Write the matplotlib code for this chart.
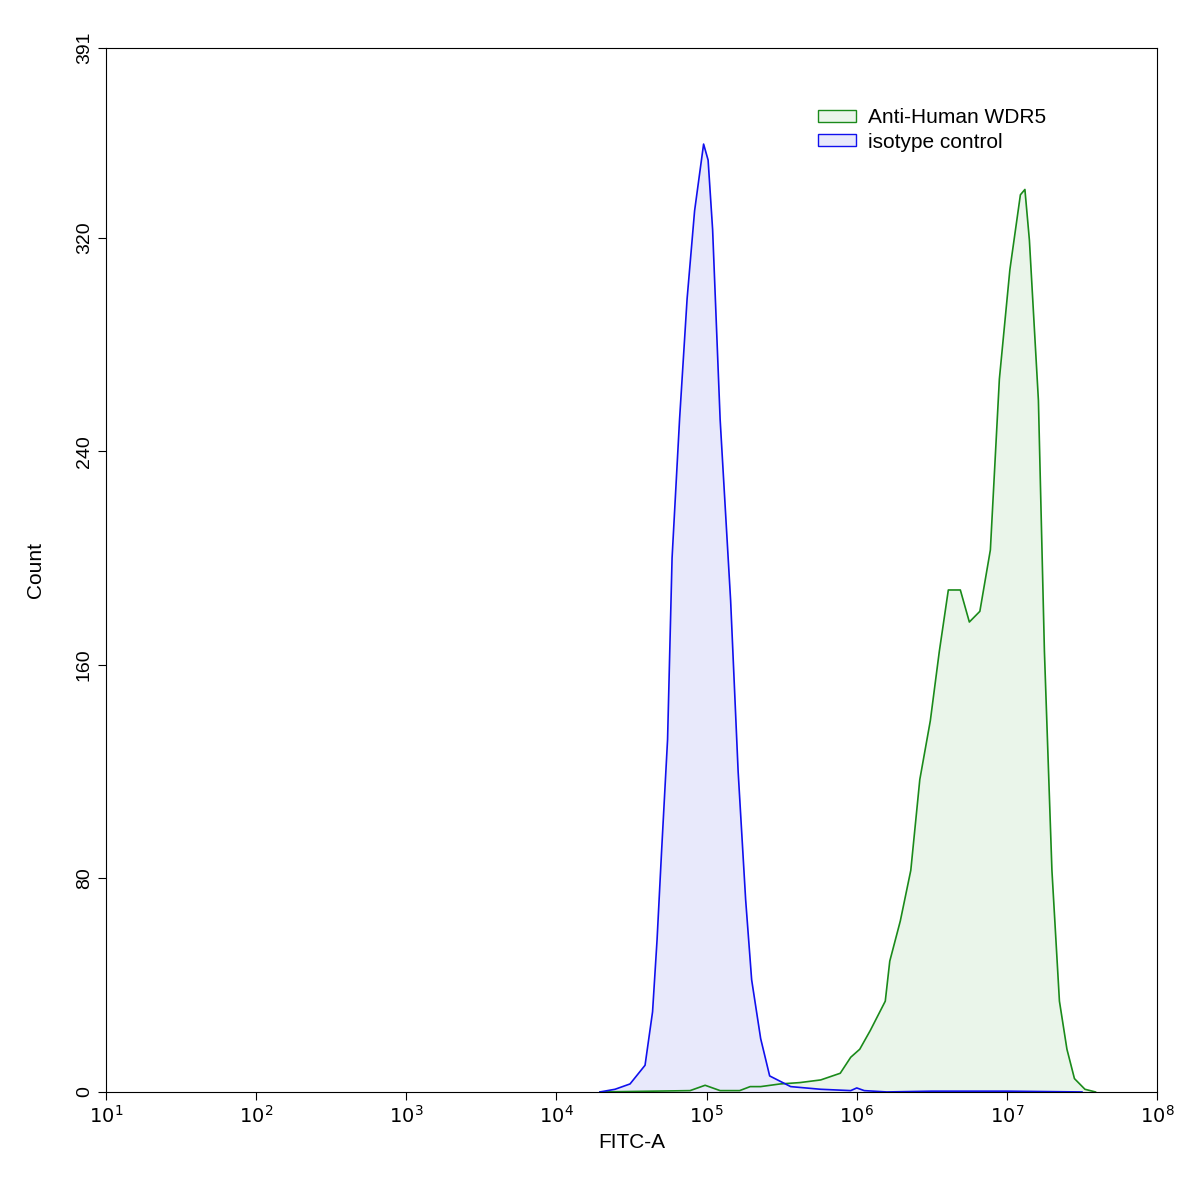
import matplotlib
matplotlib.use("Agg")
import matplotlib.pyplot as plt
import numpy as np
from matplotlib.patches import Patch

plt.rcParams['font.family'] = ['Liberation Sans', 'DejaVu Sans']

blue_logx = [4.29,4.39,4.49,4.59,4.64,4.67,4.70,4.74,4.77,4.82,4.87,4.92,4.98,5.01,5.04,5.09,5.16,5.21,5.26,5.30,5.36,5.42,5.56,5.76,5.96,6.0,6.05,6.2,6.5,7.0,7.5]
blue_y    = [0,1,3,10,30,57,90,132,200,252,297,330,355,349,323,252,184,120,72,42,20,6,2,1,0.5,1.5,0.5,0,0.3,0.3,0]
green_logx = [4.29,4.89,4.99,5.09,5.22,5.29,5.36,5.49,5.62,5.76,5.89,5.96,6.02,6.09,6.19,6.22,6.29,6.36,6.42,6.49,6.55,6.61,6.69,6.75,6.82,6.89,6.95,7.02,7.09,7.12,7.15,7.21,7.25,7.30,7.35,7.40,7.45,7.52,7.59]
green_y    = [0,0.5,2.5,0.5,0.5,2,2,3,3.5,4.5,7,13,16,23,34,49,64,83,117,139,165,188,188,176,180,203,267,308,336,338,319,259,165,83,34,16,5,1,0]

fig = plt.figure(figsize=(11.97, 11.93), dpi=100)
ax = fig.add_axes([0.0886, 0.0847, 0.878, 0.8751])
gx = 10**np.array(green_logx); bx = 10**np.array(blue_logx)
ax.fill_between(gx, green_y, color='#eaf5ea', lw=0)
ax.fill_between(bx, blue_y, color='#e8e9fb', lw=0)
ax.plot(gx, green_y, color='#1a8a1a', lw=1.2)
ax.plot(bx, blue_y, color='#1010ee', lw=1.2)
ax.set_xscale('log')
ax.set_xlim(10, 1e8)
ax.set_ylim(0, 391)
ax.set_yticks([0,80,160,240,320,391])
ax.set_yticklabels(['0','80','160','240','320','391'], rotation=90, va='center')
ax.set_xticks([10**k for k in range(1,9)])
ax.set_xticklabels([r'$10^{%d}$' % k for k in range(1,9)])
ax.minorticks_off()
ax.tick_params(labelsize=14, direction='out', length=6)
ax.set_xlabel('FITC-A', fontsize=15)
ax.set_ylabel('Count', fontsize=15, labelpad=22)
h = [Patch(facecolor='#eaf5ea', edgecolor='#1a8a1a', label='Anti-Human WDR5'),
     Patch(facecolor='#e8e9fb', edgecolor='#1010ee', label='isotype control')]
ax.legend(handles=h, loc='upper left', bbox_to_anchor=(0.66, 0.96), frameon=False, fontsize=15,
          handlelength=1.8, handleheight=0.5, handletextpad=0.6, labelspacing=0.25)
fig.savefig('out.png', dpi=100)
